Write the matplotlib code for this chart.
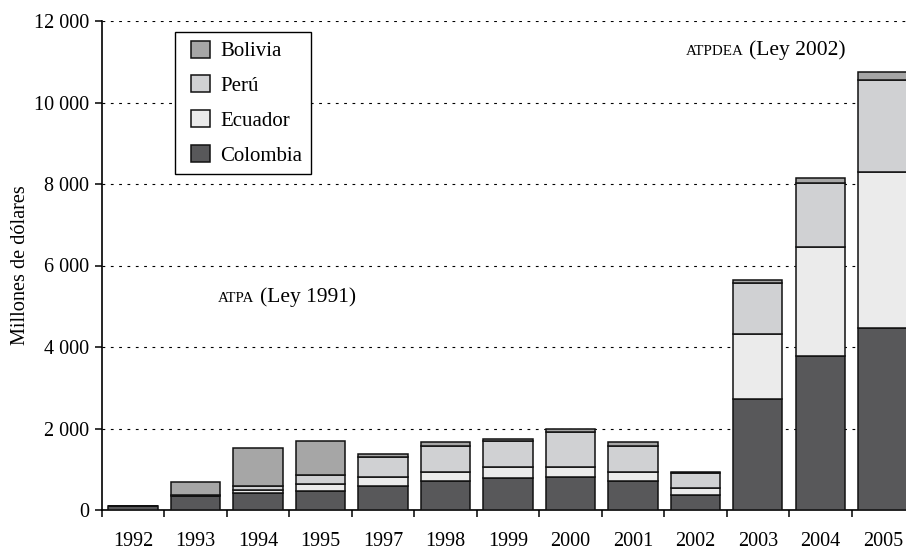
import matplotlib
matplotlib.use("Agg")
import matplotlib.pyplot as plt
import numpy as np
from matplotlib.offsetbox import TextArea, HPacker, AnnotationBbox
from matplotlib.patches import Rectangle
from matplotlib.legend_handler import HandlerPatch

plt.rcParams['font.family'] = ['Liberation Serif', 'DejaVu Serif']

years = ["1992", "1993", "1994", "1995", "1997", "1998", "1999", "2000",
         "2001", "2002", "2003", "2004", "2005"]
colombia = [105, 340, 410, 473, 590, 712, 785, 817, 712, 360, 2724, 3779, 4460]
ecuador = [0, 15, 80, 157, 228, 228, 263, 231, 228, 172, 1595, 2668, 3830]
peru = [0, 15, 110, 236, 476, 630, 638, 859, 623, 384, 1244, 1578, 2270]
bolivia = [0, 310, 910, 834, 73, 90, 50, 73, 97, 24, 80, 130, 180]

yticks = [0, 2000, 4000, 6000, 8000, 10000, 12000]
ytick_labels = ["0", "2 000", "4 000", "6 000", "8 000", "10 000", "12 000"]

series = [("Colombia", colombia, "#58585a"),
          ("Ecuador", ecuador, "#ebebeb"),
          ("Perú", peru, "#d0d1d3"),
          ("Bolivia", bolivia, "#a6a6a6")]

fig = plt.figure(figsize=(9.06, 5.5), dpi=100)
ax = fig.add_axes([101.7 / 906, 40 / 550, 812.3 / 906, 489 / 550])

x = np.arange(len(years))
bottom = np.zeros(len(years))
handles = {}
for name, vals, col in series:
    v = np.array(vals, dtype=float)
    b = ax.bar(x, v, width=0.79, bottom=bottom, color=col, edgecolor="#111111",
               linewidth=1.1, label=name, zorder=3)
    handles[name] = b.patches[0]
    bottom += v

ax.set_xlim(-0.5, len(years) - 0.5)
ax.set_ylim(0, 12000)
ax.set_yticks(yticks)
ax.set_yticklabels(ytick_labels, fontsize=14.5)
ax.set_xticks(x)
ax.set_xticklabels(years, fontsize=14.5)
ax.tick_params(axis="x", which="major", length=0, pad=16)
ax.set_xticks(np.arange(-0.5, len(years)), minor=True)
ax.tick_params(axis="x", which="minor", length=5, width=1.1, direction="out")
ax.tick_params(axis="y", length=5, width=1.1, direction="out", pad=4)

for s in ["top", "right"]:
    ax.spines[s].set_visible(False)
for s in ["left", "bottom"]:
    ax.spines[s].set_linewidth(1.2)

ax.yaxis.grid(True, linestyle=(0, (2.5, 5)), linewidth=0.8, color="black")
ax.set_axisbelow(True)

ax.set_ylabel("Millones de dólares", fontsize=14.6, labelpad=3)


def square(legend, orig_handle, xdescent, ydescent, width, height, fontsize):
    w = 0.92 * fontsize
    return Rectangle((-xdescent + width - w, -ydescent), w, height)


order = ["Bolivia", "Perú", "Ecuador", "Colombia"]
leg = ax.legend([handles[n] for n in order], order, loc="upper left",
                bbox_to_anchor=(0.090, 0.977), borderaxespad=0, fontsize=15,
                frameon=True, fancybox=False, edgecolor="black",
                handlelength=1.3, handleheight=0.88, labelspacing=0.68,
                handletextpad=0.48, borderpad=0.4,
                handler_map={Rectangle: HandlerPatch(patch_func=square)})
leg.get_frame().set_linewidth(1.0)
leg.get_frame().set_alpha(1)


def label(xpos, ypos, small, rest):
    t1 = TextArea(small, textprops=dict(fontsize=10.8, family=['Liberation Serif']))
    t2 = TextArea(rest, textprops=dict(fontsize=15.5, family=['Liberation Serif']))
    box = HPacker(children=[t1, t2], align="baseline", pad=0, sep=4)
    ab = AnnotationBbox(box, (xpos, ypos), xycoords="data", frameon=False,
                        box_alignment=(0, 0.5), pad=0)
    ax.add_artist(ab)


label(1.36, 5227, "ATPA", "(Ley 1991)")
label(8.85, 11288, "ATPDEA", "(Ley 2002)")

fig.savefig("out.png", dpi=100)
